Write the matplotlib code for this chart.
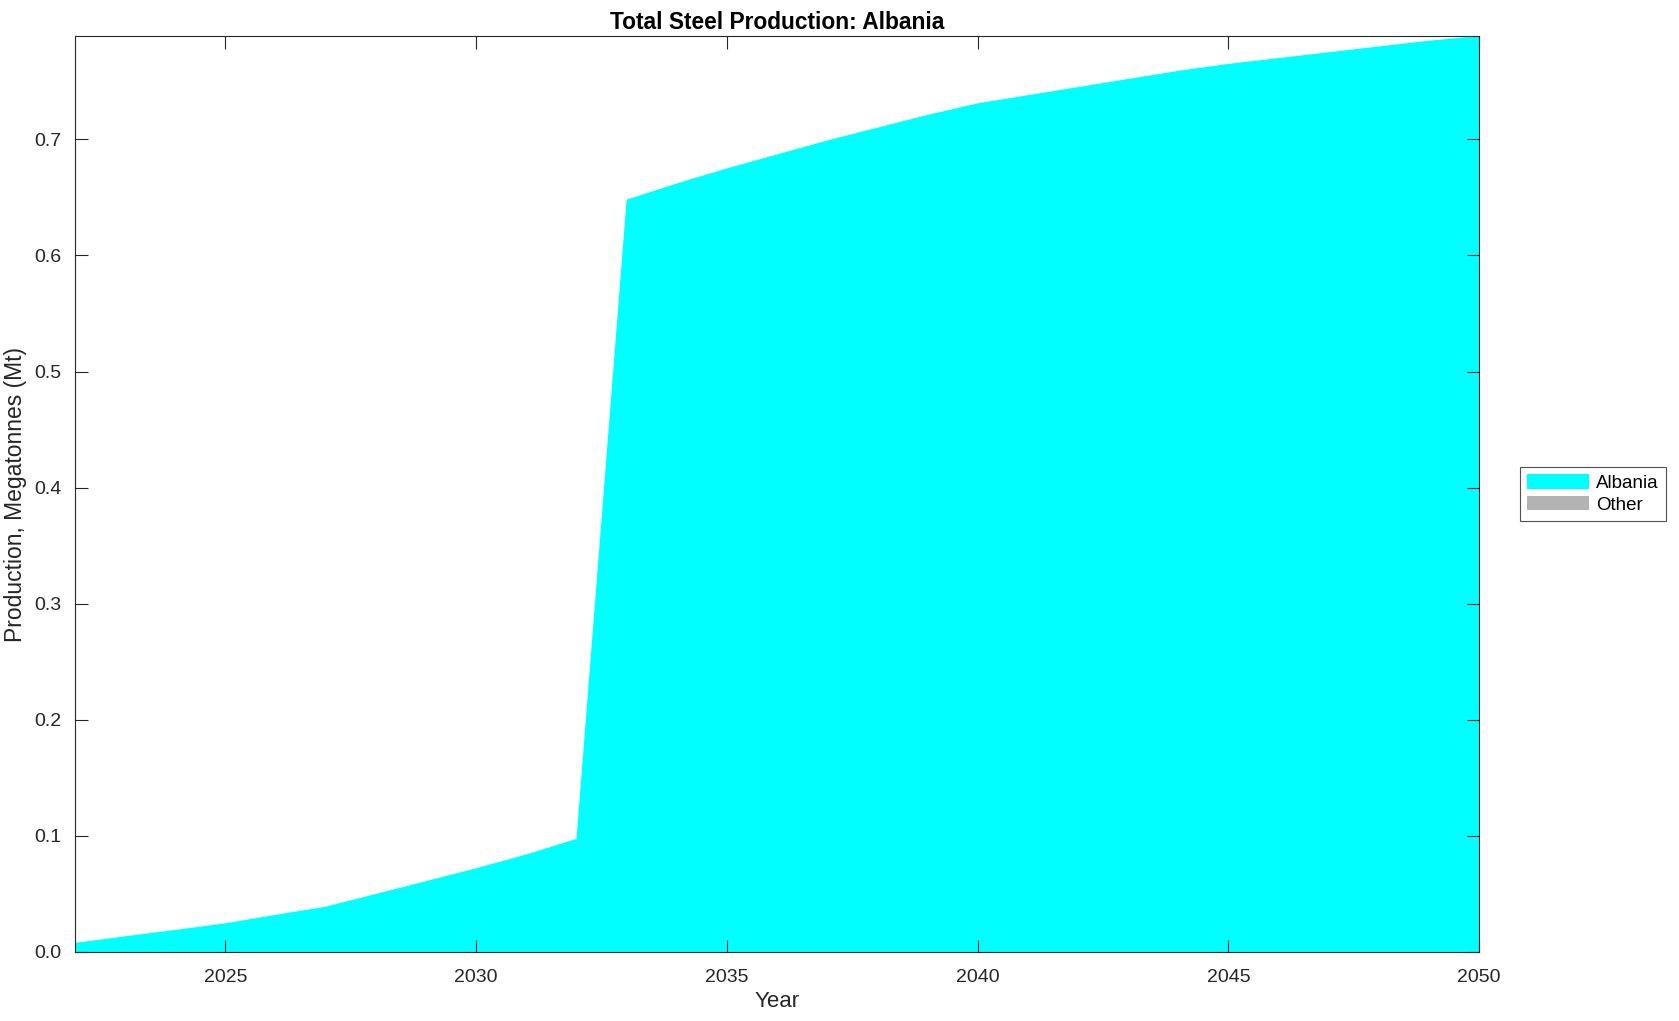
import numpy as np
import matplotlib
matplotlib.use("Agg")
import matplotlib.pyplot as plt

plt.rcParams['font.family'] = ['Liberation Sans', 'DejaVu Sans']

years = np.arange(2022, 2051)
albania = [0.0078, 0.0135, 0.019, 0.0247, 0.032, 0.039, 0.050, 0.061, 0.0721,
           0.084, 0.0974, 0.648, 0.662, 0.675, 0.687, 0.699, 0.710, 0.721,
           0.731, 0.738, 0.745, 0.752, 0.759, 0.765, 0.770, 0.775, 0.780,
           0.785, 0.789]
other = [0.0] * len(years)

series_names = ['Albania', 'Other']
series_colors = ['#00FFFF', '#B3B3B3']

fig = plt.figure(figsize=(16.79, 10.21), dpi=100)
ax = fig.add_axes([0.0447, 0.0676, 0.8362, 0.8971])

ax.stackplot(years, albania, other, labels=series_names, colors=series_colors,
             linewidth=0)

ax.set_xlim(2022, 2050)
ax.set_ylim(0, max(albania))
ax.set_xticks([2025, 2030, 2035, 2040, 2045, 2050])
ax.set_yticks(np.arange(0, 0.71, 0.1))
ax.set_yticklabels([f'{v:.1f}' for v in np.arange(0, 0.71, 0.1)])

ax.tick_params(direction='in', length=9, width=0.8, top=True, right=True,
               labelsize=14, colors='#262626', labelcolor='#262626')
ax.tick_params(axis='x', pad=12)
ax.tick_params(axis='y', pad=10)
for s in ax.spines.values():
    s.set_color('#262626')
    s.set_linewidth(0.8)

ax.set_title('Total Steel Production: Albania', fontsize=16.4, fontweight='bold', pad=5)
ax.set_xlabel('Year', fontsize=16, color='#262626', labelpad=4)
ax.set_ylabel('Production, Megatonnes (Mt)', fontsize=16.5, color='#262626', labelpad=5)

leg = ax.legend(loc='center left', bbox_to_anchor=(1.029, 0.5), fontsize=13.5,
                frameon=True, fancybox=False, edgecolor='#262626',
                handlelength=3.3, handleheight=0.8, borderpad=0.4,
                labelspacing=0.2, handletextpad=0.35, borderaxespad=0)
leg.get_frame().set_linewidth(0.8)

fig.savefig('out.png', dpi=100)
